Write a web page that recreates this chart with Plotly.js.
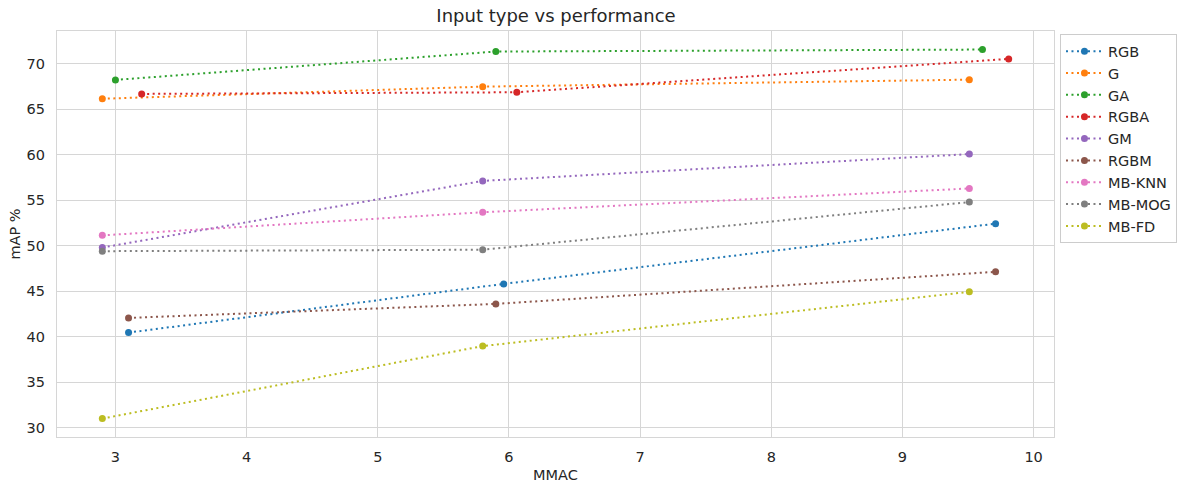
<!DOCTYPE html>
<html>
<head>
<meta charset="utf-8">
<script src="https://cdn.plot.ly/plotly-3.0.1.min.js"></script>
<style>html,body{margin:0;padding:0;background:#fff;}#chart{width:1177px;height:483px;}</style>
</head>
<body>
<div id="chart"></div>
<script>
const seriesNames = ["RGB","G","GA","RGBA","GM","RGBM","MB-KNN","MB-MOG","MB-FD"];
const colors = ["#1f77b4","#ff7f0e","#2ca02c","#d62728","#9467bd","#8c564b","#e377c2","#7f7f7f","#bcbd22"];
const xRGB = [3.1, 5.96, 9.71];    const yRGB = [40.45, 45.8, 52.43];
const xG = [2.9, 5.8, 9.51];       const yG = [66.17, 67.5, 68.27];
const xGA = [3.0, 5.9, 9.61];      const yGA = [68.24, 71.36, 71.58];
const xRGBA = [3.2, 6.06, 9.81];   const yRGBA = [66.7, 66.88, 70.55];
const xGM = [2.9, 5.8, 9.51];      const yGM = [49.8, 57.13, 60.08];
const xRGBM = [3.1, 5.9, 9.71];    const yRGBM = [42.06, 43.6, 47.13];
const xKNN = [2.9, 5.8, 9.51];     const yKNN = [51.14, 53.68, 56.3];
const xMOG = [2.9, 5.8, 9.51];     const yMOG = [49.4, 49.56, 54.8];
const xFD = [2.9, 5.8, 9.51];      const yFD = [30.99, 38.96, 44.93];
const xs = [xRGB,xG,xGA,xRGBA,xGM,xRGBM,xKNN,xMOG,xFD];
const ys = [yRGB,yG,yGA,yRGBA,yGM,yRGBM,yKNN,yMOG,yFD];

const traces = seriesNames.map((n,i)=>({
  type:'scatter', mode:'lines+markers', name:n, x:xs[i], y:ys[i],
  line:{color:colors[i], width:2, dash:'2px,3.5px'},
  marker:{color:colors[i], size:7}
}));
const grid = '#d6d6d6';
const fs = 14.5;
const font = {family:'DejaVu Sans, sans-serif', size:fs, color:'#262626'};
const layout = {
  width:1177, height:483,
  margin:{l:57, r:123, t:31, b:46, autoexpand:false},
  paper_bgcolor:'#fff', plot_bgcolor:'#fff',
  font:font,
  showlegend:true, hovermode:false,
  title:{text:'Input type vs performance', x:0.4724, xanchor:'center', y:0.967, yanchor:'middle', font:{family:'DejaVu Sans, sans-serif', size:18, color:'#262626'}},
  xaxis:{range:[2.5545,10.1555], tickvals:[3,4,5,6,7,8,9,10], ticks:'outside', ticklen:6, tickcolor:'rgba(0,0,0,0)', showgrid:true, gridcolor:grid, gridwidth:1,
    showline:true, linecolor:grid, linewidth:1.2, mirror:true, zeroline:false, automargin:false,
    title:{text:'MMAC', font:{size:fs}, standoff:6}, tickfont:{size:fs}},
  yaxis:{range:[28.96,73.62], tickvals:[30,35,40,45,50,55,60,65,70], ticks:'outside', ticklen:8, tickcolor:'rgba(0,0,0,0)', showgrid:true, gridcolor:grid, gridwidth:1,
    showline:true, linecolor:grid, linewidth:1.2, mirror:true, zeroline:false, automargin:false,
    title:{text:'mAP %', font:{size:fs}, standoff:2}, tickfont:{size:fs}},
  legend:{x:1.006, xanchor:'left', y:0.992, yanchor:'top', bgcolor:'#fff', bordercolor:'#cccccc', borderwidth:1,
    font:{size:fs}, tracegroupgap:0, itemwidth:37}
};
Plotly.newPlot('chart', traces, layout, {displayModeBar:false, staticPlot:true});
</script>
</body>
</html>
